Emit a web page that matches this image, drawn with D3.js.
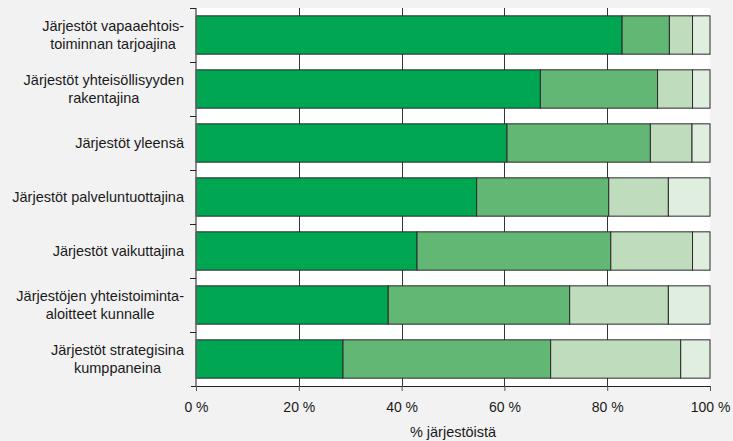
<!DOCTYPE html>
<html>
<head>
<meta charset="utf-8">
<script src="https://cdn.jsdelivr.net/npm/d3@7"></script>
<style>
  html, body { margin: 0; padding: 0; background: #f2f2f2; }
  svg { display: block; font-family: Arial, "Liberation Sans", sans-serif; }
</style>
</head>
<body>
<svg id="chart" width="733" height="441"></svg>
<script>
const categories = [
  ["Järjestöt vapaaehtois-", "toiminnan tarjoajina"],
  ["Järjestöt yhteisöllisyyden", "rakentajina"],
  ["Järjestöt yleensä"],
  ["Järjestöt palveluntuottajina"],
  ["Järjestöt vaikuttajina"],
  ["Järjestöjen yhteistoiminta-", "aloitteet kunnalle"],
  ["Järjestöt strategisina", "kumppaneina"]
];
const series1 = [82.9, 67.0, 60.5, 54.6, 43.0, 37.4, 28.6];
const series2 = [9.2, 22.8, 27.9, 25.7, 37.7, 35.3, 40.4];
const series3 = [4.5, 6.8, 8.1, 11.6, 15.9, 19.2, 25.3];
const series4 = [3.4, 3.4, 3.5, 8.1, 3.4, 8.1, 5.7];
const xTicks = [0, 20, 40, 60, 80, 100];
const xTitle = "% järjestöistä";
const colors = ["#00a651", "#63b774", "#bfdcbc", "#e0eedf"];

const svg = d3.select("#chart");
const margin = { left: 196, right: 23, top: 8, bottom: 55 };
const W = 733, H = 441;
const x = d3.scaleLinear().domain([0, 100]).range([margin.left, W - margin.right]);
const keys = categories.map((c, i) => i);
const y = d3.scaleBand().domain(keys).range([margin.top, H - margin.bottom]).paddingInner(0.29).paddingOuter(0.145);
const yb = d3.scaleBand().domain(keys).range([margin.top, H - margin.bottom]);

const rows = keys.map(i => ({ i, s0: series1[i], s1: series2[i], s2: series3[i], s3: series4[i] }));
const stack = d3.stack().keys(["s0", "s1", "s2", "s3"])(rows);

// plot background
svg.append("rect")
  .attr("x", x(0)).attr("y", margin.top)
  .attr("width", x(100) - x(0)).attr("height", H - margin.bottom - margin.top)
  .attr("fill", "#ffffff");

// gridlines
svg.append("g").selectAll("line").data(xTicks.filter(t => t > 0 && t < 100)).join("line")
  .attr("x1", d => Math.round(x(d)) + 0.5).attr("x2", d => Math.round(x(d)) + 0.5)
  .attr("y1", margin.top).attr("y2", H - margin.bottom)
  .attr("stroke", "#333").attr("stroke-width", 1);

// bars
const g = svg.append("g");
stack.forEach((layer, li) => {
  g.selectAll(null).data(layer).join("rect")
    .attr("x", d => x(d[0]))
    .attr("y", d => y(d.data.i))
    .attr("width", d => x(d[1]) - x(d[0]))
    .attr("height", y.bandwidth())
    .attr("fill", colors[li])
    .attr("stroke", "#2a2a2a")
    .attr("stroke-width", 1);
});

// x axis
const xAxis = d3.axisBottom(x).tickValues(xTicks).tickFormat(d => d + " %").tickSize(5).tickSizeOuter(0);
const xg = svg.append("g").attr("transform", `translate(0,${H - margin.bottom})`).call(xAxis);
xg.select(".domain").attr("stroke", "#222").attr("d", `M${x(0) - 5},0.5H${x(100)}`);
xg.selectAll(".tick line").attr("stroke", "#555");
xg.selectAll(".tick text").attr("font-size", "14px").attr("fill", "#1a1a1a").attr("dy", "1.3em")
  .style("font-family", "Arial, 'Liberation Sans', sans-serif");

// y axis line + ticks at band boundaries
const yg = svg.append("g");
yg.append("line").attr("x1", x(0)).attr("x2", x(0))
  .attr("y1", margin.top).attr("y2", H - margin.bottom)
  .attr("stroke", "#666").attr("stroke-width", 1.5);
const bounds = keys.map(i => yb(i));
yg.selectAll("line.t").data(bounds).join("line").attr("class", "t")
  .attr("x1", x(0) - 6).attr("x2", x(0))
  .attr("y1", d => Math.round(d) + 0.5).attr("y2", d => Math.round(d) + 0.5)
  .attr("stroke", "#222");

// category labels
const lineH = 18.5;
const labelRight = x(0) - 12;
const lg = svg.append("g").attr("font-size", "14.5px").attr("fill", "#1a1a1a");
categories.forEach((lines, i) => {
  const cy = yb(i) + yb.bandwidth() / 2;
  const t = lg.append("text").attr("text-anchor", "middle");
  const n = lines.length;
  const spans = lines.map((ln, k) => t.append("tspan")
    .attr("y", cy + 5 + (k - (n - 1) / 2) * lineH).text(ln));
  const maxW = d3.max(spans, s => s.node().getComputedTextLength());
  spans.forEach(s => s.attr("x", labelRight - maxW / 2));
});

// axis title
svg.append("text").attr("x", (x(0) + x(100)) / 2).attr("y", 437)
  .attr("text-anchor", "middle").attr("font-size", "14.5px").attr("fill", "#1a1a1a")
  .text(xTitle);
</script>
</body>
</html>
